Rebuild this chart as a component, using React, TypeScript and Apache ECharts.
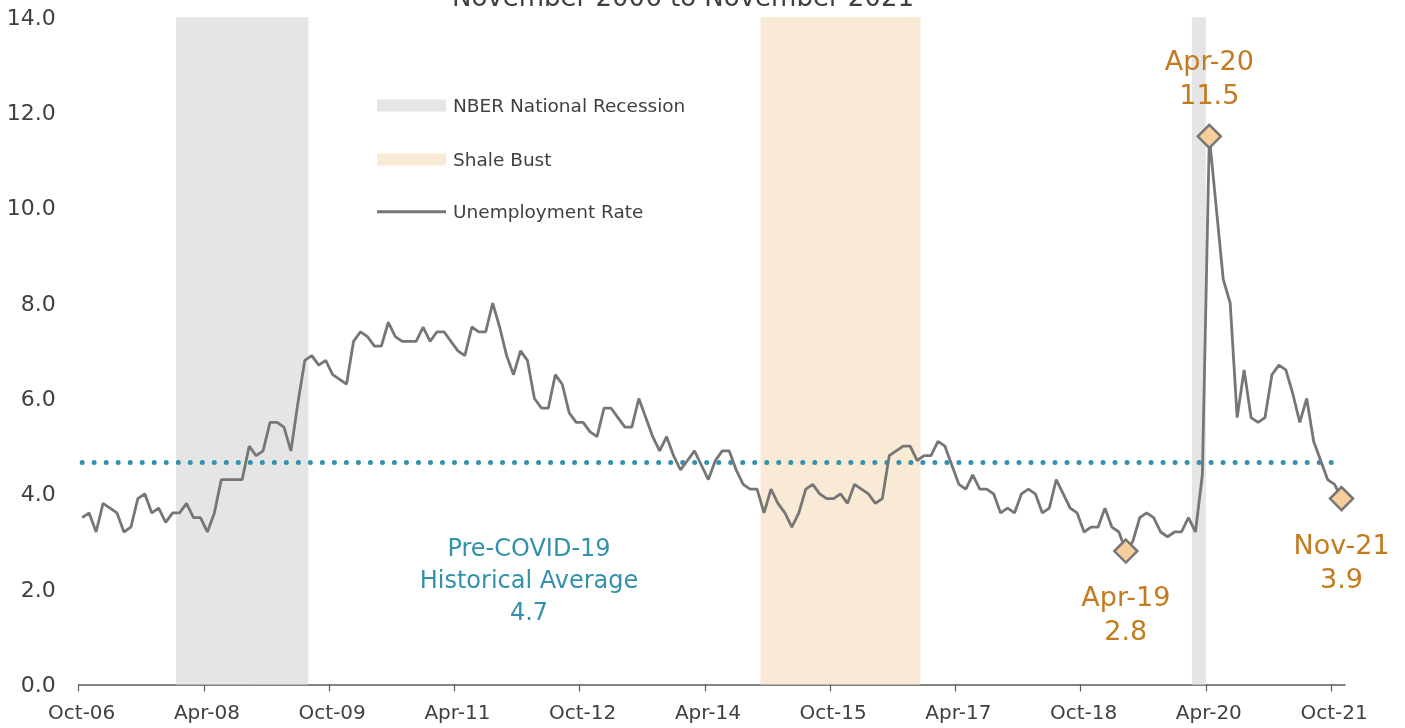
import React, { useEffect, useRef } from "react";
import * as echarts from "echarts";

// Monthly unemployment rate (%); index 0 = Oct-06, index 181 = Nov-21
const unemploymentRate: number[] = [
  3.5, 3.6, 3.2, 3.8, 3.7, 3.6, 3.2, 3.3, 3.9, 4.0,
  3.6, 3.7, 3.4, 3.6, 3.6, 3.8, 3.5, 3.5, 3.2, 3.6,
  4.3, 4.3, 4.3, 4.3, 5.0, 4.8, 4.9, 5.5, 5.5, 5.4,
  4.9, 5.9, 6.8, 6.9, 6.7, 6.8, 6.5, 6.4, 6.3, 7.2,
  7.4, 7.3, 7.1, 7.1, 7.6, 7.3, 7.2, 7.2, 7.2, 7.5,
  7.2, 7.4, 7.4, 7.2, 7.0, 6.9, 7.5, 7.4, 7.4, 8.0,
  7.5, 6.9, 6.5, 7.0, 6.8, 6.0, 5.8, 5.8, 6.5, 6.3,
  5.7, 5.5, 5.5, 5.3, 5.2, 5.8, 5.8, 5.6, 5.4, 5.4,
  6.0, 5.6, 5.2, 4.9, 5.2, 4.8, 4.5, 4.7, 4.9, 4.6,
  4.3, 4.7, 4.9, 4.9, 4.5, 4.2, 4.1, 4.1, 3.6, 4.1,
  3.8, 3.6, 3.3, 3.6, 4.1, 4.2, 4.0, 3.9, 3.9, 4.0,
  3.8, 4.2, 4.1, 4.0, 3.8, 3.9, 4.8, 4.9, 5.0, 5.0,
  4.7, 4.8, 4.8, 5.1, 5.0, 4.6, 4.2, 4.1, 4.4, 4.1,
  4.1, 4.0, 3.6, 3.7, 3.6, 4.0, 4.1, 4.0, 3.6, 3.7,
  4.3, 4.0, 3.7, 3.6, 3.2, 3.3, 3.3, 3.7, 3.3, 3.2,
  2.8, 3.0, 3.5, 3.6, 3.5, 3.2, 3.1, 3.2, 3.2, 3.5,
  3.2, 4.4, 11.5, 10.0, 8.5, 8.0, 5.6, 6.6, 5.6, 5.5,
  5.6, 6.5, 6.7, 6.6, 6.1, 5.5, 6.0, 5.1, 4.7, 4.3,
  4.2, 3.9,
];

const axisTickLabels = [
  "Oct-06", "Apr-08", "Oct-09", "Apr-11", "Oct-12", "Apr-14",
  "Oct-15", "Apr-17", "Oct-18", "Apr-20", "Oct-21",
];
const monthsPerTick = 18;
const axisMonths = 182;

const yMin = 0;
const yMax = 14;
const yStep = 2;

// spans in months from Oct-06
const recessionSpans: [number, number][] = [[14, 33], [160, 162]];
const shaleBustSpans: [number, number][] = [[98, 121]];

const preCovidAverage = 4.66;
const preCovidAverageLines = ["Pre-COVID-19", "Historical Average", "4.7"];

const highlightIndex = [150, 162, 181];
const highlightMonth = ["Apr-19", "Apr-20", "Nov-21"];

const titleText = "November 2006 to November 2021";
const legendNames = ["NBER National Recession", "Shale Bust", "Unemployment Rate"];

const FONT = "'DejaVu Sans', 'Noto Sans', sans-serif";
const TEXT = "#404040";
const LINE = "#767676";
const RECESSION = "#E5E5E5";
const SHALE = "#F9EAD6";
const TEAL = "#3391AB";
const ORANGE = "#C47A1F";
const DIAMOND = "#F7CE9C";

export default function App() {
  const ref = useRef<HTMLDivElement>(null);

  useEffect(() => {
    if (!ref.current) return;
    const chart = echarts.init(ref.current, undefined, { renderer: "svg" });
    const tickValues = axisTickLabels.map((_, k) => k * monthsPerTick);
    const lineData = unemploymentRate.map((v, i) => [i + 0.5, v]);
    const peak = Math.max(...unemploymentRate);

    const areaData = [
      ...recessionSpans.map(([s, e]) => [
        { xAxis: s, itemStyle: { color: RECESSION } },
        { xAxis: e },
      ]),
      ...shaleBustSpans.map(([s, e]) => [
        { xAxis: s, itemStyle: { color: SHALE } },
        { xAxis: e },
      ]),
    ];

    const legendRowY = [105.5, 159.5, 211.7];
    const legendX = 377;
    const legendSwatchW = 69;
    const legendTextX = 453;

    chart.setOption({
      animation: false,
      grid: { left: 78.7, right: 60, top: 17.2, bottom: 43.5 },
      xAxis: {
        type: "value",
        min: 0,
        max: axisMonths,
        splitLine: { show: false },
        axisLine: { show: true, lineStyle: { color: "#595959", width: 1.5 } },
        axisTick: {
          show: true,
          customValues: tickValues,
          length: 7,
          lineStyle: { color: "#595959", width: 1.2 },
        },
        axisLabel: {
          customValues: tickValues,
          formatter: (v: number) => axisTickLabels[Math.round(v / monthsPerTick)] ?? "",
          fontFamily: FONT,
          fontSize: 20,
          color: TEXT,
          margin: 17,
          padding: [0, 0, 0, 6],
        },
      },
      yAxis: {
        type: "value",
        min: yMin,
        max: yMax,
        interval: yStep,
        splitLine: { show: false },
        axisLine: { show: false },
        axisTick: { show: false },
        axisLabel: {
          formatter: (v: number) => v.toFixed(1),
          fontFamily: FONT,
          fontSize: 22,
          color: TEXT,
          margin: 23,
        },
      },
      series: [
        {
          name: "bands",
          type: "line",
          data: [],
          silent: true,
          z: 1,
          markArea: { silent: true, data: areaData },
        },
        {
          name: "average",
          type: "line",
          data: [
            [0.5, preCovidAverage],
            [unemploymentRate.length - 0.5, preCovidAverage],
          ],
          symbol: "none",
          silent: true,
          z: 2,
          lineStyle: { color: TEAL, width: 5, type: [0.01, 12], cap: "round", opacity: 1 },
        },
        {
          name: legendNames[2],
          type: "line",
          data: lineData,
          symbol: "none",
          z: 3,
          lineStyle: { color: LINE, width: 2.8 },
        },
        {
          name: "highlights",
          type: "scatter",
          z: 4,
          symbol: "diamond",
          symbolSize: 23,
          itemStyle: { color: DIAMOND, borderColor: LINE, borderWidth: 2.5, opacity: 1 },
          data: highlightIndex.map((idx, k) => {
            const v = unemploymentRate[idx];
            const isPeak = v === peak;
            return {
              value: [idx + 0.5, v],
              label: {
                show: true,
                position: isPeak ? "top" : "bottom",
                distance: isPeak ? 12 : 16,
                formatter: `${highlightMonth[k]}\n${v.toFixed(1)}`,
                fontFamily: FONT,
                fontSize: 27,
                lineHeight: 34,
                color: ORANGE,
                opacity: 1,
                align: "center",
              },
            };
          }),
        },
      ],
      graphic: [
        {
          type: "text",
          x: 683,
          y: -3,
          style: {
            text: titleText,
            fontFamily: FONT,
            fontSize: 26,
            fill: TEXT,
            align: "center",
            verticalAlign: "middle",
          },
        },
        {
          type: "rect",
          shape: { x: legendX, y: legendRowY[0] - 6, width: legendSwatchW, height: 12 },
          style: { fill: RECESSION },
        },
        {
          type: "rect",
          shape: { x: legendX, y: legendRowY[1] - 6, width: legendSwatchW, height: 12 },
          style: { fill: SHALE },
        },
        {
          type: "line",
          shape: { x1: legendX, y1: legendRowY[2], x2: legendX + legendSwatchW, y2: legendRowY[2] },
          style: { stroke: LINE, lineWidth: 3 },
        },
        ...legendNames.map((name, k) => ({
          type: "text",
          x: legendTextX,
          y: legendRowY[k],
          style: {
            text: name,
            fontFamily: FONT,
            fontSize: 18.5,
            fill: TEXT,
            align: "left",
            verticalAlign: "middle",
          },
        })),
        {
          type: "text",
          x: 529,
          y: 532.5,
          style: {
            text: preCovidAverageLines.join("\n"),
            fontFamily: FONT,
            fontSize: 24,
            lineHeight: 31.7,
            fill: TEAL,
            align: "center",
            verticalAlign: "top",
          },
        },
      ],
    });

    return () => chart.dispose();
  }, []);

  return (
    <div
      ref={ref}
      style={{ position: "fixed", left: 0, top: 0, width: 1405, height: 728 }}
    />
  );
}
